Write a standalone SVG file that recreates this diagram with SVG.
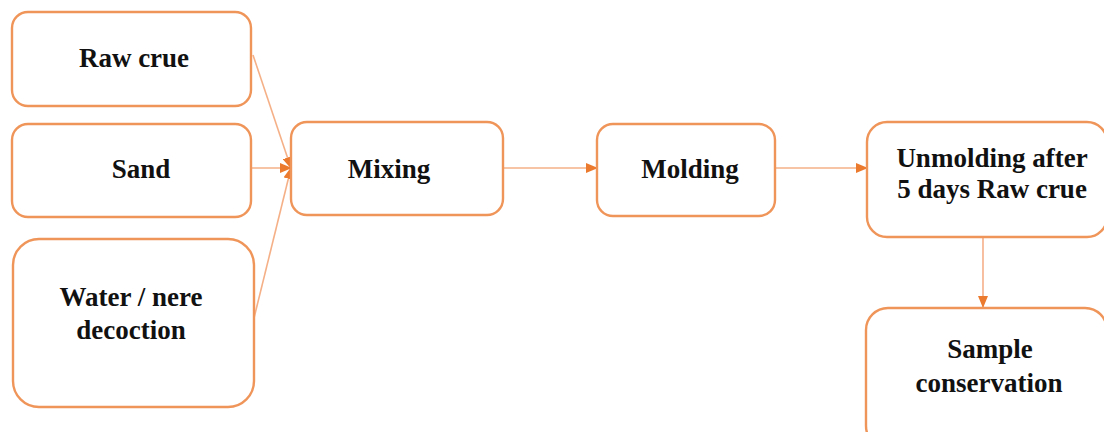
<svg xmlns="http://www.w3.org/2000/svg" width="1104" height="432" viewBox="0 0 1104 432">
<defs>
<style>
.box{fill:#ffffff;stroke:#f0955a;stroke-width:2.4}
.t{font-family:"Liberation Serif","Times New Roman",serif;font-weight:bold;font-size:27px;fill:#111;text-anchor:middle}
.c{stroke:#f5b088;stroke-width:1.6;fill:none}
</style>
<marker id="ah" markerWidth="12" markerHeight="10" refX="11" refY="5" orient="auto" markerUnits="userSpaceOnUse">
<path d="M0,0 L12,5 L0,10 Z" fill="#ec7a2e"/>
</marker>
</defs>
<rect width="1104" height="432" fill="#ffffff"/>
<g id="connectors">
<line class="c" x1="253" y1="55" x2="291" y2="168" marker-end="url(#ah)"/>
<line class="c" x1="251" y1="168" x2="291" y2="168" marker-end="url(#ah)"/>
<line class="c" x1="254" y1="318" x2="291" y2="168" marker-end="url(#ah)"/>
<line class="c" x1="503" y1="168" x2="597" y2="168" marker-end="url(#ah)"/>
<line class="c" x1="775" y1="168" x2="867" y2="168" marker-end="url(#ah)"/>
<line class="c" x1="983" y1="237" x2="983" y2="307" marker-end="url(#ah)"/>
</g>
<g id="raw-crue">
<rect class="box" x="12" y="12" width="239" height="94" rx="16"/>
<text class="t" x="134" y="67">Raw crue</text>
</g>
<g id="sand">
<rect class="box" x="12" y="124" width="239" height="93" rx="16"/>
<text class="t" x="141" y="178">Sand</text>
</g>
<g id="water">
<rect class="box" x="13" y="239" width="241" height="168" rx="26"/>
<text class="t" x="131" y="306">Water / nere</text>
<text class="t" x="131" y="339">decoction</text>
</g>
<g id="mixing">
<rect class="box" x="291" y="122" width="212" height="93" rx="16"/>
<text class="t" x="389" y="178">Mixing</text>
</g>
<g id="molding">
<rect class="box" x="597" y="124" width="178" height="92" rx="16"/>
<text class="t" x="690" y="178">Molding</text>
</g>
<g id="unmolding">
<rect class="box" x="867" y="122" width="240" height="115" rx="20"/>
<text class="t" x="992" y="167">Unmolding after</text>
<text class="t" x="992" y="198">5 days Raw crue</text>
</g>
<g id="sample">
<rect class="box" x="866" y="308" width="241" height="140" rx="22"/>
<text class="t" x="990" y="358">Sample</text>
<text class="t" x="989" y="392">conservation</text>
</g>
</svg>
